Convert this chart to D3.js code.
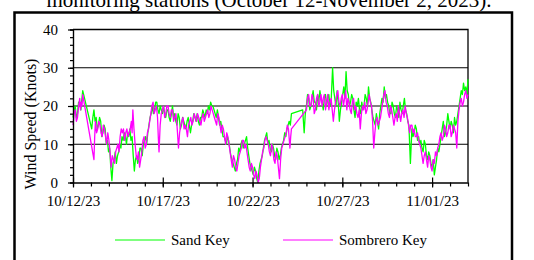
<!DOCTYPE html>
<html lang="en">
  <head>
    <meta charset="UTF-8" />
    <script src="https://d3js.org/d3.v7.min.js"></script>
    <title>Wind speed</title>
    <style>
      body { margin: 0; background: #fff; }
    </style>
  </head>
  <body>
    <script>
      // hours since 10/12/23 00:00, wind speed in knots
      const sandKey = [
        [0, 17], [1.5, 19], [3, 20], [4.5, 17], [6, 18], [7.5, 21], [9, 21], [10.5, 19], [12, 22], [13, 24],
        [25, 14], [26.5, 17], [28, 19], [29.5, 16], [31, 17], [32.5, 14], [34, 15], [35.5, 17], [37, 16], [38.5, 12],
        [40, 13], [41.5, 15], [43, 14], [44.5, 10], [46, 11], [47.5, 8], [49, 9], [50.5, 4], [52, 0.5], [53.5, 5],
        [55, 6], [56.5, 8], [58, 5], [59.5, 7], [61, 8], [62.5, 10], [64, 9], [65.5, 12], [67, 11], [68.5, 13],
        [70, 12], [71.5, 10], [73, 13], [74.5, 12], [76, 14], [77.5, 11], [79, 12], [80.5, 7], [82, 3], [83.5, 6],
        [85, 7], [86.5, 5], [88, 6], [89.5, 9], [91, 9], [92.5, 7], [94, 10], [95.5, 11], [97, 12], [98.5, 10],
        [100, 13], [101.5, 15], [103, 17], [104.5, 18], [106, 20], [107.5, 18], [109, 19], [110.5, 21], [112, 21], [113.5, 19],
        [115, 18], [116.5, 20], [118, 19], [119.5, 18], [121, 20], [122.5, 18], [124, 17], [125.5, 19], [127, 19], [128.5, 17],
        [130, 16], [131.5, 18], [133, 20], [134.5, 17], [136, 18], [137.5, 16], [139, 15], [140.5, 18], [142, 17], [143.5, 14],
        [145, 15], [146.5, 17], [148, 16], [149.5, 15], [151, 14], [152.5, 16], [154, 17], [155.5, 15], [157, 13], [158.5, 15],
        [160, 16], [161.5, 18], [163, 17], [164.5, 16], [166, 18], [167.5, 16], [169, 15], [170.5, 17], [172, 17], [173.5, 19],
        [175, 18], [176.5, 17], [178, 19], [179.5, 18], [181, 20], [182.5, 19], [184, 21], [185.5, 20], [187, 20], [188.5, 19],
        [190, 18], [191.5, 17], [193, 19], [194.5, 17], [196, 15], [197.5, 16], [199, 14], [200.5, 12], [202, 12], [203.5, 11],
        [205, 10], [206.5, 12], [208, 11], [209.5, 9], [211, 7], [212.5, 6], [214, 5], [215.5, 4], [217, 3], [218.5, 5],
        [220, 6], [221.5, 9], [223, 8], [224.5, 10], [226, 11], [227.5, 9], [229, 10], [230.5, 11], [232, 12], [233.5, 9],
        [235, 7], [236.5, 5], [238, 4], [239.5, 3], [241, 2], [242.5, 4], [244, 3], [245.5, 1], [247, 0], [248.5, 3],
        [250, 5], [251.5, 6], [253, 7], [254.5, 9], [256, 11], [257.5, 12], [259, 13], [260.5, 10], [262, 11], [263.5, 9],
        [265, 8], [266.5, 10], [268, 9], [269.5, 7], [271, 6], [272.5, 9], [274, 8], [275.5, 6], [277, 7], [278.5, 9],
        [280, 10], [281.5, 11], [283, 13], [284.5, 12], [286, 14], [287.5, 15], [289, 16], [290.5, 15], [292, 18],
        [307, 19], [309, 13], [310.5, 18], [312, 20], [313.5, 23], [315, 22], [316.5, 19], [318, 20], [319.5, 22], [321, 24],
        [322.5, 21], [324, 21], [325.5, 19], [327, 23], [328.5, 21], [330, 24], [331.5, 22], [333, 21], [334.5, 19], [336, 22],
        [337.5, 23], [339, 20], [340.5, 22], [342, 23], [343.5, 20], [345, 21], [347, 30], [348.5, 24], [350, 22], [351.5, 20],
        [353, 24], [354.5, 21], [356, 16], [357.5, 19], [359, 21], [360.5, 23], [362, 25], [363.5, 22], [365, 29], [366.5, 24],
        [368, 23], [369.5, 20], [371, 21], [372.5, 23], [374, 22], [375.5, 19], [377, 17], [378.5, 21], [380, 20], [381.5, 22],
        [383, 19], [384.5, 18], [386, 21], [387.5, 19], [389, 20], [390.5, 23], [392, 22], [393.5, 20], [395, 25], [396.5, 22],
        [398, 21], [399.5, 19], [401, 17], [402.5, 16], [404, 15], [405.5, 18], [407, 16], [408.5, 14], [410, 18], [411.5, 20],
        [413, 22], [414.5, 21], [416, 25], [417.5, 22], [419, 23], [420.5, 21], [422, 20], [423.5, 18], [425, 18], [426.5, 21],
        [428, 20], [429.5, 18], [431, 17], [432.5, 20], [434, 19], [435.5, 17], [437, 21], [438.5, 19], [440, 18], [441.5, 20],
        [443, 22], [444.5, 19], [446, 18], [447.5, 16], [449, 15], [451, 5], [453, 14], [454.5, 12], [456, 13], [457.5, 15],
        [459, 14], [460.5, 11], [462, 12], [463.5, 10], [465, 11], [466.5, 9], [468, 8], [469.5, 11], [471, 10], [472.5, 7],
        [474, 6], [475.5, 8], [477, 7], [478.5, 5], [480, 4], [481.5, 6], [483, 2], [484.5, 4], [486, 6], [487.5, 9],
        [489, 8], [490.5, 10], [492, 12], [493.5, 14], [495, 16], [496.5, 12], [498, 13], [499.5, 15], [501, 18], [502.5, 16],
        [504, 14], [505.5, 16], [507, 15], [508.5, 13], [510, 17], [511.5, 15], [513, 16], [514.5, 18], [516, 20], [517.5, 22],
        [519, 24], [520.5, 23], [522, 26], [523.5, 24], [525, 25], [526.5, 23], [528, 27]
      ];

      const sombreroKey = [
        [0, 15], [1.5, 18], [3, 19], [4.5, 16], [6, 17], [7.5, 20], [9, 22], [10, 19], [11, 21], [12, 20], [13, 23],
        [28, 6], [29, 12], [30, 16], [31.5, 13], [33, 14], [34.5, 16], [36, 15], [37.5, 13], [39, 12], [40.5, 15],
        [42, 14], [43.5, 12], [45, 10], [46.5, 13], [48, 11], [49.5, 8], [51, 4], [52.5, 7], [54, 6], [55.5, 5],
        [57, 8], [58.5, 9], [60, 10], [61.5, 8], [63, 12], [64.5, 14], [66, 13], [67.5, 14], [69, 11], [70.5, 13],
        [72, 14], [73.5, 12], [75, 13], [76.5, 14], [78, 16], [79, 13], [80, 19], [81.5, 14], [83, 10], [84.5, 7],
        [86, 6], [87.5, 8], [89, 4], [90.5, 6], [92, 8], [93.5, 11], [95, 12], [96.5, 9], [98, 10], [99.5, 13],
        [101, 14], [102.5, 16], [104, 18], [105.5, 20], [107, 21], [108.5, 18], [110, 19], [111.5, 20], [113, 17], [114, 12],
        [115, 8], [116.5, 15], [118, 18], [119.5, 19], [121, 20], [122.5, 17], [124, 18], [125.5, 20], [127, 20], [128.5, 18],
        [130, 17], [131.5, 19], [133, 19], [134.5, 16], [136, 17], [137.5, 18], [139, 15], [140, 12], [141, 9], [142.5, 13],
        [144, 15], [145.5, 16], [147, 17], [148.5, 14], [150, 15], [151.5, 14], [153, 12], [154.5, 15], [156, 16], [157.5, 17],
        [159, 15], [160.5, 16], [162, 18], [163.5, 17], [165, 16], [166.5, 18], [168, 17], [169.5, 16], [171, 15], [172.5, 17],
        [174, 18], [175.5, 16], [177, 17], [178.5, 18], [180, 19], [181.5, 17], [183, 18], [184.5, 20], [186, 19], [187.5, 18],
        [189, 17], [190.5, 16], [192, 15], [193.5, 18], [195, 17], [196.5, 15], [198, 13], [199.5, 15], [201, 14], [202.5, 12],
        [204, 10], [205.5, 13], [207, 12], [208.5, 10], [210, 8], [211.5, 6], [213, 4], [214.5, 7], [216, 6], [217.5, 4],
        [219, 3], [220.5, 5], [222, 7], [223.5, 8], [225, 9], [226.5, 11], [228, 11], [229.5, 9], [231, 10], [232.5, 8],
        [234, 6], [235.5, 4], [237, 3], [238.5, 5], [240, 4], [241.5, 2], [243, 1], [244.5, 3], [246, 2], [247.5, 0],
        [249, 1], [250.5, 4], [252, 6], [253.5, 8], [255, 9], [256.5, 11], [258, 12], [259.5, 11], [261, 10], [262.5, 8],
        [264, 7], [265.5, 10], [267, 9], [268.5, 6], [270, 5], [271.5, 8], [273, 7], [274.5, 4], [276, 1], [277.5, 6],
        [279, 9], [280.5, 10], [282, 11], [283.5, 12], [285, 13], [286.5, 15], [288, 14], [290, 9], [291, 12], [292, 14],
        [312, 19], [313.5, 22], [315, 23], [316.5, 20], [318, 20], [319.5, 23], [321, 22], [322.5, 18], [324, 19], [325.5, 22],
        [327, 23], [328.5, 20], [330, 21], [331.5, 23], [333, 20], [334.5, 22], [336, 23], [337.5, 19], [339, 21], [340.5, 23],
        [342, 19], [343.5, 21], [345, 22], [346.5, 19], [348, 16], [349.5, 19], [351, 21], [352.5, 23], [354, 24], [355.5, 21],
        [357, 20], [358.5, 22], [360, 23], [361.5, 20], [363, 22], [364.5, 24], [366, 19], [367.5, 22], [369, 21], [370.5, 19],
        [372, 18], [373.5, 21], [375, 22], [376.5, 19], [378, 20], [379.5, 18], [381, 17], [382.5, 19], [384, 14], [385.5, 18],
        [387, 20], [388.5, 19], [390, 21], [391.5, 18], [393, 19], [394.5, 21], [396, 23], [397.5, 21], [399, 20], [400.5, 16],
        [402, 9], [403.5, 13], [405, 16], [406.5, 17], [408, 15], [409.5, 16], [411, 17], [412.5, 19], [414, 21], [415.5, 23],
        [417, 24], [418.5, 21], [420, 20], [421.5, 18], [423, 17], [424.5, 20], [426, 19], [427.5, 17], [429, 15], [430.5, 17],
        [432, 18], [433.5, 16], [435, 20], [436.5, 18], [438, 16], [439.5, 18], [441, 19], [442.5, 17], [444, 20], [445.5, 18],
        [447, 17], [448.5, 15], [450, 13], [451.5, 15], [453, 15], [454.5, 13], [456, 14], [457.5, 12], [459, 12], [460.5, 13],
        [462, 11], [463.5, 10], [465, 9], [466.5, 7], [468, 5], [469.5, 7], [471, 8], [472.5, 6], [474, 4], [475.5, 7],
        [477, 6], [478.5, 4], [480, 3], [481.5, 6], [483, 5], [484.5, 8], [486, 7], [487.5, 9], [489, 10], [490.5, 12],
        [492, 13], [493.5, 11], [495, 12], [496.5, 15], [498, 14], [499.5, 12], [501, 13], [502.5, 15], [504, 15], [505.5, 12],
        [507, 13], [508.5, 15], [510, 14], [511.5, 13], [513, 9], [514.5, 16], [516, 19], [517.5, 21], [519, 22], [520.5, 20],
        [522, 21], [523.5, 23], [525, 24], [526.5, 22], [528, 23]
      ];

      const yTicks = [0, 10, 20, 30, 40];
      const gridValues = [10, 20, 30];
      const xTickDays = [12, 17, 22, 27, 32]; // day of October, 32 = 11/01
      const seriesNames = ["Sand Key", "Sombrero Key"];
      const seriesColors = ["#00ff00", "#ff00ff"];

      const serif = '"Liberation Serif", "Times New Roman", serif';
      const start = Date.UTC(2023, 9, 12);
      const toDate = (h) => new Date(start + h * 3600000);

      let svg = d3.select("body").append("svg").attr("width", 534).attr("height", 260);

      // title, clipped at the top like the source
      svg.append("text")
        .attr("x", 269)
        .attr("y", 6.5)
        .attr("text-anchor", "middle")
        .style("font-family", serif)
        .style("font-size", "21px")
        .text("monitoring stations (October 12-November 2, 2023).");

      // outer frame
      svg.append("rect")
        .attr("x", 14.5).attr("y", 12.5)
        .attr("width", 497.5).attr("height", 270)
        .attr("fill", "none").attr("stroke", "#000").attr("stroke-width", 2.5);

      let x = d3.scaleUtc()
        .domain([new Date(start), new Date(Date.UTC(2023, 10, 3))])
        .range([73, 468]);
      let y = d3.scaleLinear().domain([0, 40]).range([182.5, 29.5]);

      // grid + frame of plot
      svg.selectAll("line.grid")
        .data(gridValues)
        .enter()
        .append("line")
        .attr("class", "grid")
        .attr("x1", 73).attr("x2", 468)
        .attr("y1", (d) => y(d)).attr("y2", (d) => y(d))
        .attr("stroke", "#000").attr("stroke-width", 1);

      svg.append("polyline")
        .attr("points", [[73, y(40)], [468, y(40)], [468, y(0)]])
        .attr("fill", "none").attr("stroke", "#000").attr("stroke-width", 1.3);

      // series
      let line = d3.line()
        .x((d) => x(toDate(d[0])))
        .y((d) => y(d[1]));

      [sandKey, sombreroKey].forEach((data, i) => {
        svg.append("path")
          .datum(data)
          .attr("d", line)
          .attr("fill", "none")
          .attr("stroke", seriesColors[i])
          .attr("stroke-width", 1.3)
          .attr("stroke-linejoin", "round");
      });

      // y axis
      let yMinor = d3.axisLeft(y).tickValues(d3.range(0, 41, 2)).tickSize(3).tickFormat("");
      svg.append("g").attr("transform", "translate(73,0)").call(yMinor);

      let yAxis = d3.axisLeft(y).tickValues(yTicks).tickSize(5).tickPadding(10).tickSizeOuter(0);
      let gy = svg.append("g").attr("transform", "translate(73,0)").call(yAxis);
      gy.selectAll("text").attr("dy", "0.33em");

      // x axis
      let days = d3.range(0, 23).map((d) => toDate(d * 24));
      let xMinor = d3.axisBottom(x).tickValues(days).tickSize(4).tickFormat("").tickSizeOuter(0);
      svg.append("g").attr("transform", "translate(0,182.5)").call(xMinor);

      let xAxis = d3.axisBottom(x)
        .tickValues(xTickDays.map((d) => new Date(Date.UTC(2023, 9, d))))
        .tickFormat(d3.utcFormat("%m/%d/%y"))
        .tickSize(5)
        .tickSizeOuter(0);
      let gx = svg.append("g").attr("transform", "translate(0,182.5)").call(xAxis);
      gx.selectAll(".tick line").attr("y1", -5).attr("y2", 5);
      gx.selectAll("text").attr("y", 23.5).attr("dy", 0);

      svg.selectAll(".tick text")
        .style("font-family", serif)
        .style("font-size", "15px")
        .attr("fill", "#000");
      svg.selectAll(".domain, .tick line").attr("stroke", "#000").attr("stroke-width", 1.2);

      // y title
      svg.append("text")
        .attr("transform", "translate(36,124) rotate(-90)")
        .attr("text-anchor", "middle")
        .style("font-family", serif)
        .style("font-size", "16px")
        .text("Wind Speed (Knots)");

      // legend
      const legendX = [115, 283];
      seriesNames.forEach((name, i) => {
        svg.append("line")
          .attr("x1", legendX[i]).attr("x2", legendX[i] + 50)
          .attr("y1", 240).attr("y2", 240)
          .attr("stroke", seriesColors[i]).attr("stroke-width", 1.2);
        svg.append("text")
          .attr("x", legendX[i] + 56)
          .attr("y", 244.5)
          .style("font-family", serif)
          .style("font-size", "15px")
          .text(name);
      });
    </script>
  </body>
</html>
